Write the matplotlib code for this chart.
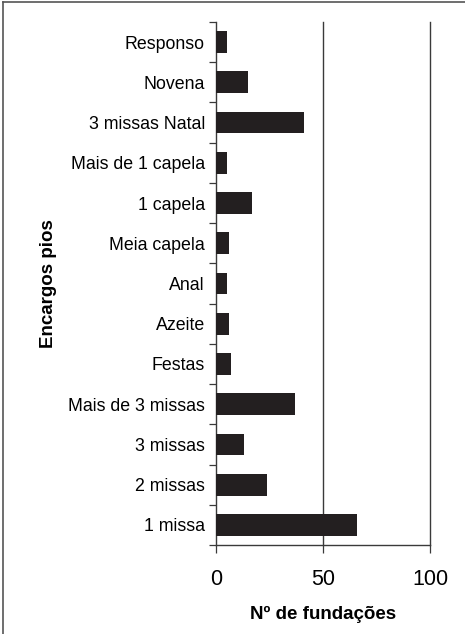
import matplotlib
matplotlib.use("Agg")
import matplotlib.pyplot as plt
from matplotlib.lines import Line2D
import numpy as np

plt.rcParams["font.family"] = ["Liberation Sans", "DejaVu Sans"]

# Data (bottom to top)
categories = ["1 missa", "2 missas", "3 missas", "Mais de 3 missas", "Festas",
              "Azeite", "Anal", "Meia capela", "1 capela", "Mais de 1 capela",
              "3 missas Natal", "Novena", "Responso"]
values = [66, 24, 13, 37, 7, 6, 5, 6, 17, 5, 41, 15, 5]
x_ticks = [0, 50, 100]

fig = plt.figure(figsize=(4.65, 6.34), dpi=100)
ax = fig.add_axes([0.4645, 0.1404, 0.4602, 0.8249])

y = np.arange(len(categories))
ax.barh(y, values, height=0.54, color="#231f20", zorder=3)

ax.set_xlim(0, 100)
ax.set_ylim(-0.5, len(categories) - 0.5)

# vertical gridlines
for xv in x_ticks[1:]:
    ax.axvline(xv, color="#3a3a3a", lw=1.0, zorder=1, clip_on=False)

ax.set_yticks(y)
ax.set_yticklabels(categories, fontsize=12.8)
ax.set_yticks(np.arange(-0.5, len(categories), 1.0), minor=True)
ax.tick_params(axis="y", which="major", length=0, pad=8)
ax.tick_params(axis="y", which="minor", length=5, width=0.9, color="#3a3a3a")

ax.set_xticks(x_ticks)
ax.set_xticklabels([str(v) for v in x_ticks], fontsize=15.5)
ax.tick_params(axis="x", length=6, width=0.9, color="#3a3a3a", pad=11,
               direction="out")

for side in ["top", "right"]:
    ax.spines[side].set_visible(False)
for side in ["left", "bottom"]:
    ax.spines[side].set_color("#3a3a3a")
    ax.spines[side].set_linewidth(1.0)

ax.set_xlabel("Nº de fundações", fontsize=13.5, fontweight="bold", labelpad=12)
ax.set_ylabel("Encargos pios", fontsize=13.5, fontweight="bold", labelpad=0)
ax.yaxis.set_label_coords(-0.745, 0.50)

# outer frame (top and left edges)
fig.add_artist(Line2D([3 / 465, 1], [1 - 2 / 634, 1 - 2 / 634],
                      transform=fig.transFigure, color="#555555", lw=1.2))
fig.add_artist(Line2D([3 / 465, 3 / 465], [0, 1 - 2 / 634],
                      transform=fig.transFigure, color="#555555", lw=1.2))

fig.savefig("out.png", dpi=100)
